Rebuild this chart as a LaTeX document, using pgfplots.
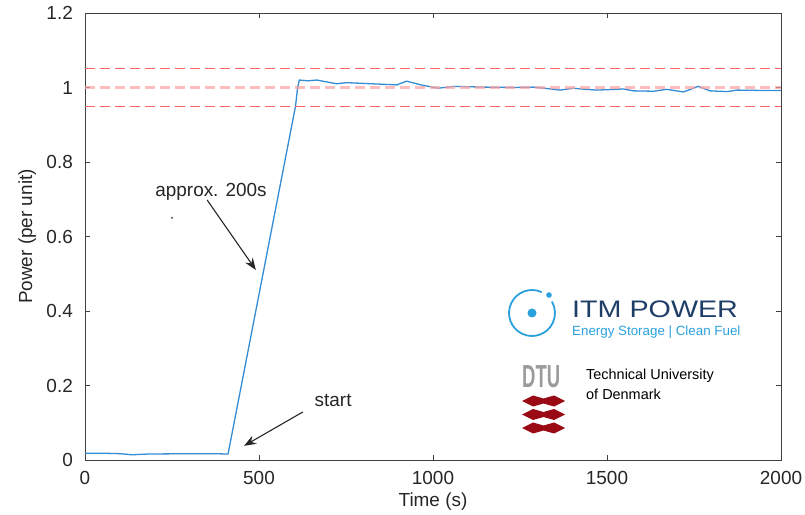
\documentclass[border=0pt]{standalone}
\usepackage{pgfplots}
\pgfplotsset{compat=1.18}
\usepackage{fontspec}
\setmainfont{Liberation Sans}
\usetikzlibrary{arrows.meta}
\definecolor{curve}{RGB}{52,140,212}
\definecolor{dred}{RGB}{255,100,100}
\definecolor{mred}{RGB}{255,160,160}
\definecolor{txt}{RGB}{38,38,38}
\definecolor{itmnavy}{RGB}{30,62,104}
\definecolor{itmblue}{RGB}{42,160,220}
\definecolor{dtured}{RGB}{153,10,20}
\definecolor{dtugray}{RGB}{155,155,155}
\begin{document}
\begin{tikzpicture}
\path[use as bounding box] (-85bp,-55bp) rectangle (720bp,460bp);
\begin{axis}[
  scale only axis, width=696bp, height=447bp,
  xmin=0, xmax=2000, ymin=0, ymax=1.2,
  xtick={0,500,1000,1500,2000},
  xticklabels={0,500,1000,1500,2000},
  ytick={0,0.2,0.4,0.6,0.8,1,1.2},
  yticklabels={0,0.2,0.4,0.6,0.8,1,1.2},
  tick align=inside, major tick length=5bp,
  axis line style={draw=black!75, line width=0.7bp},
  every tick/.style={black!75, line width=0.7bp},
  /pgf/number format/assume math mode=true,
  ticklabel style={font=\fontsize{19}{19}\selectfont, text=txt, inner sep=0pt},
  xticklabel style={anchor=center, yshift=-18bp},
  yticklabel style={anchor=east, xshift=-12bp},
  xlabel={Time (s)}, ylabel={Power (per unit)},
  label style={font=\fontsize{19}{19}\selectfont, text=txt, inner sep=0pt},
  xlabel style={at={(axis description cs:0.5,-0.094)}, anchor=center},
  ylabel style={at={(axis description cs:-0.083,0.5)}, anchor=center},
  clip=false,
]
\addplot[draw=curve, line width=1.3bp] coordinates {
(0,0.018)(60,0.018)(100,0.017)(135,0.014)(180,0.016)(300,0.017)(370,0.017)(411,0.016)
(605,0.95)(611,1.0)(616,1.020)(640,1.018)(666,1.020)(700,1.014)(723,1.010)(752,1.013)
(800,1.011)(896,1.007)(924,1.017)(970,1.006)(1015,0.998)(1058,1.003)(1150,1.001)
(1231,1.000)(1288,1.001)(1330,0.997)(1365,0.993)(1403,0.998)(1440,0.995)(1471,0.993)
(1547,0.996)(1576,0.991)(1633,0.990)(1672,0.995)(1720,0.988)(1762,1.003)(1796,0.991)
(1845,0.989)(1874,0.993)(1950,0.992)(2000,0.992)};
\addplot[draw=dred, line width=1.1bp, dash pattern=on 10bp off 5bp] coordinates {(0,1.05)(2000,1.05)};
\addplot[draw=dred, line width=1.1bp, dash pattern=on 10bp off 5bp] coordinates {(0,0.95)(2000,0.95)};
\addplot[draw=mred, draw opacity=0.7, line width=2.6bp, dash pattern=on 10bp off 5bp] coordinates {(0,1.0)(2000,1.0)};
\node[font=\fontsize{19}{19}\selectfont, text=txt] at (axis cs:362,0.72) {approx. 200s};
\draw[black!85, line width=1.1bp, -{Stealth[length=12bp,width=9bp]}] (axis cs:351,0.698) -- (axis cs:491,0.51);
\node[font=\fontsize{19}{19}\selectfont, text=txt] at (axis cs:713,0.161) {start};
\draw[black!85, line width=1.1bp, -{Stealth[length=12bp,width=9bp]}] (axis cs:626,0.129) -- (axis cs:457,0.038);
\fill[black!80] (axis cs:250,0.65) circle[radius=1bp];
\end{axis}
% ITM POWER logo
\draw[itmblue, line width=1.8bp] (447bp,147bp) ++(65:23bp) arc[start angle=65, end angle=390, radius=23bp];
\fill[itmblue] (464bp,165bp) circle[radius=2.8bp];
\fill[itmblue] (447bp,147bp) circle[radius=4.5bp];
\node[anchor=base west, inner sep=0pt, text=itmnavy] at (487bp,142bp)
  {\scalebox{1.2}[1]{\fontsize{24}{24}\selectfont ITM POWER}};
\node[anchor=base west, inner sep=0pt, text=itmblue] at (487bp,124bp)
  {\fontsize{13.4}{13.4}\selectfont Energy Storage | Clean Fuel};
% DTU logo
\node[anchor=base west, inner sep=0pt, text=dtugray] at (437bp,72bp)
  {\scalebox{0.58}[1]{\fontsize{32}{32}\selectfont\bfseries DTU}};
\foreach \yy in {59,45.5,32} {
  \fill[dtured] (437bp,\yy bp) -- (448bp,\yy bp+5.5bp) -- (458.5bp,\yy bp+2.5bp) -- (469bp,\yy bp+5.5bp) -- (480bp,\yy bp)
    -- (469bp,\yy bp-5.5bp) -- (458.5bp,\yy bp-2.5bp) -- (448bp,\yy bp-5.5bp) -- cycle;
}
\node[anchor=base west, inner sep=0pt, text=black] at (501bp,80bp)
  {\fontsize{14.5}{14.5}\selectfont Technical University};
\node[anchor=base west, inner sep=0pt, text=black] at (501bp,60bp)
  {\fontsize{14.5}{14.5}\selectfont of Denmark};
\end{tikzpicture}
\end{document}
